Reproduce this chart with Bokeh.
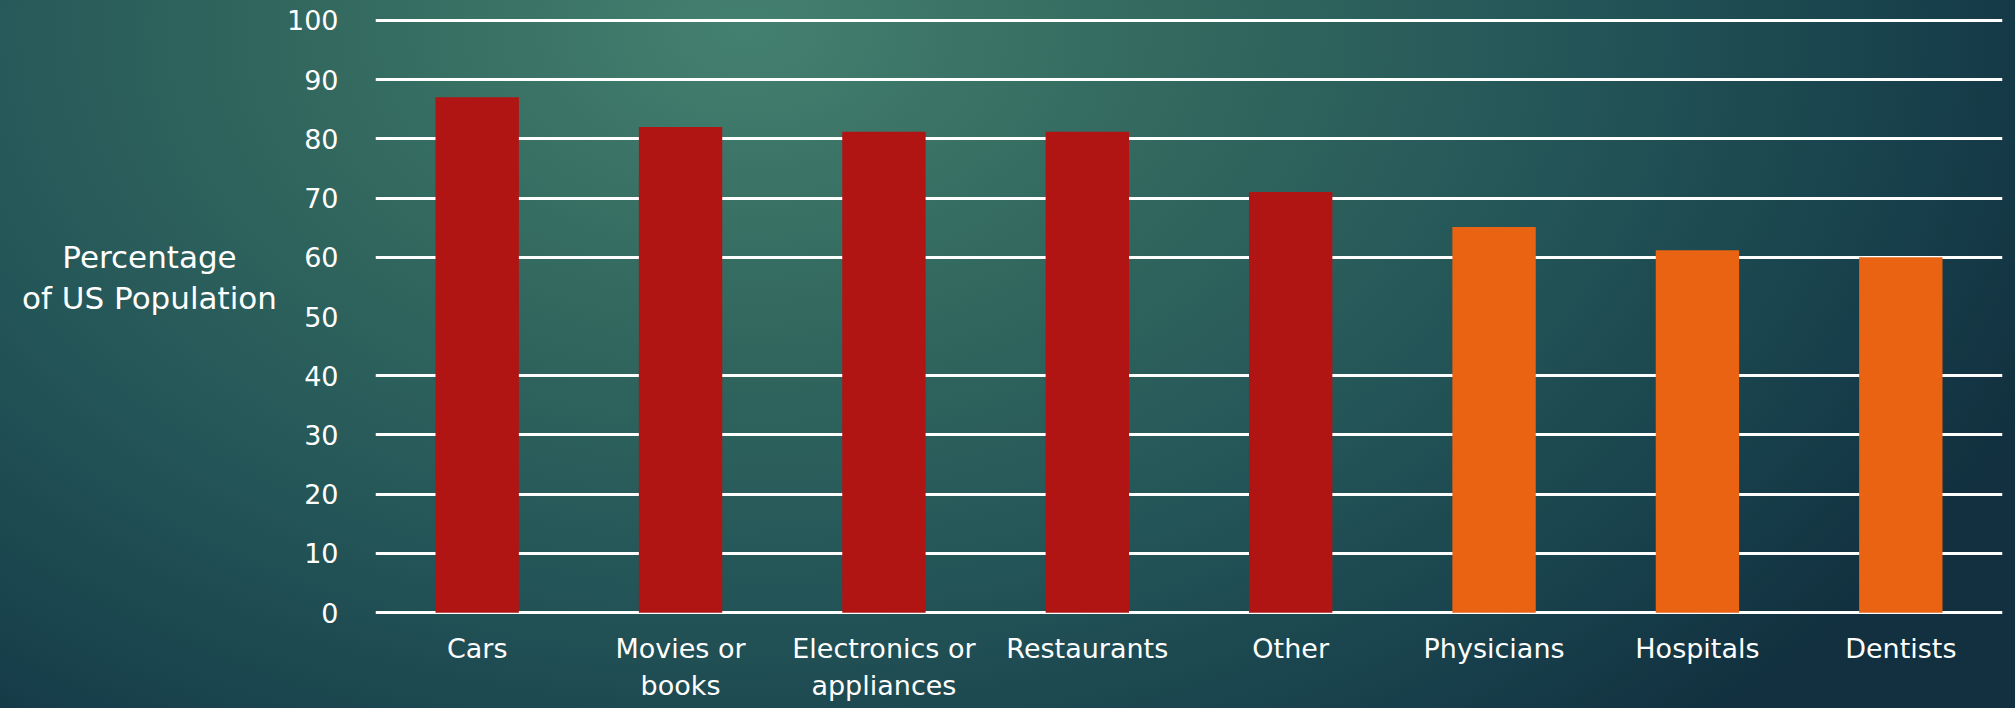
from bokeh.plotting import figure
from bokeh.layouts import row
from bokeh.models import ColumnDataSource, FixedTicker
from bokeh.embed import file_html
from bokeh.resources import INLINE

categories = ["Cars", "Movies or\nbooks", "Electronics or\nappliances", "Restaurants",
              "Other", "Physicians", "Hospitals", "Dentists"]
values = [87, 82, 81.2, 81.2, 71, 65.1, 61.2, 60]
groups = ["consumer", "consumer", "consumer", "consumer", "consumer",
          "health", "health", "health"]
y_ticks = [0, 10, 20, 30, 40, 50, 60, 70, 80, 90, 100]
grid_ticks = [0, 10, 20, 30, 40, 60, 70, 80, 90, 100]
y_label_lines = ["Percentage", "of US Population"]

group_colors = {"consumer": "#B01514", "health": "#E96312"}
colors = [group_colors[g] for g in groups]

src = ColumnDataSource(dict(cat=categories, val=values, color=colors))

FONT = "DejaVu Sans"
LEFT_W = 281
TOTAL_W, TOTAL_H = 2015, 708

p = figure(x_range=categories, y_range=(-0.3, 100.3), width=TOTAL_W - LEFT_W, height=TOTAL_H,
           output_backend="svg", toolbar_location=None,
           min_border_left=375 - LEFT_W, min_border_right=13,
           min_border_top=18, min_border_bottom=94)
p.background_fill_color = None
p.border_fill_color = None
p.outline_line_color = None

p.vbar(x="cat", top="val", width=0.41, color="color", line_color=None, source=src)

p.xgrid.visible = False
p.ygrid.ticker = FixedTicker(ticks=grid_ticks)
p.ygrid.grid_line_color = "white"
p.ygrid.grid_line_width = 3
p.ygrid.grid_line_alpha = 1.0

p.yaxis.ticker = FixedTicker(ticks=y_ticks)
for ax in (p.xaxis[0], p.yaxis[0]):
    ax.axis_line_color = None
    ax.major_tick_line_color = None
    ax.minor_tick_line_color = None
    ax.major_label_text_color = "white"
    ax.major_label_text_font = FONT

p.yaxis.major_label_text_font_size = "27px"
p.yaxis.major_label_standoff = 31
p.xaxis.major_label_text_font_size = "27px"
p.xaxis.major_label_standoff = 12

# left panel holding the horizontal y-axis title, sharing the value axis scale
left = figure(width=LEFT_W, height=TOTAL_H, x_range=(0, LEFT_W), y_range=p.y_range,
              output_backend="svg", toolbar_location=None,
              min_border_left=0, min_border_right=0,
              min_border_top=18, min_border_bottom=94,
              x_axis_location=None, y_axis_location=None)
left.background_fill_color = None
left.border_fill_color = None
left.outline_line_color = None
left.grid.visible = False
label_src = ColumnDataSource(dict(x=[149, 149], y=[60.0, 53.1], text=y_label_lines))
left.text(x="x", y="y", text="text", source=label_src, text_align="center",
          text_baseline="middle", text_color="white", text_font_size="31px",
          text_font={"value": FONT})

layout = row(left, p, spacing=0)
layout.styles = {"background": "radial-gradient(ellipse 1400px 950px at 37% 4%, "
                               "#44806f 0%, #33695f 30%, #245658 58%, #173f4b 85%, #12303f 100%)",
                 "width": f"{TOTAL_W}px", "height": f"{TOTAL_H}px"}

open("out.html", "w").write(file_html(layout, INLINE))
